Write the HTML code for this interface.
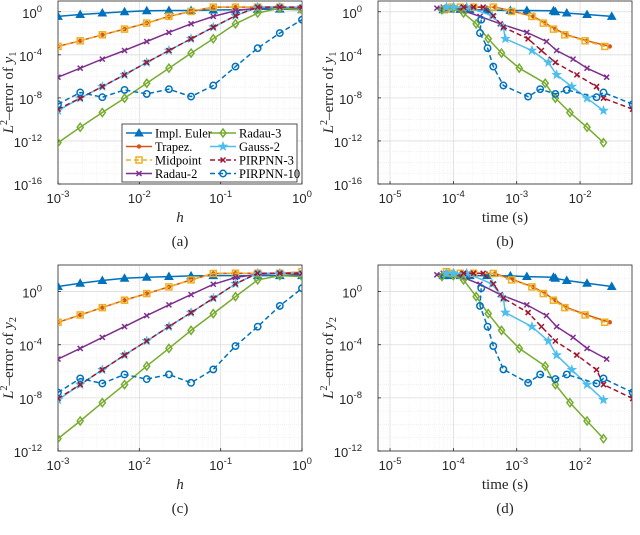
<!DOCTYPE html>
<html><head><meta charset="utf-8"><style>
body{margin:0;background:#fff;width:640px;height:535px;overflow:hidden}
svg{display:block}
.tk{font-family:"Liberation Sans",sans-serif;font-size:13px;fill:#262626}
.lb{font-family:"Liberation Serif",serif;font-size:15px;fill:#262626}
.lg{font-family:"Liberation Serif",serif;font-size:12.5px;fill:#000}
</style></head><body>
<svg id="fig" width="640" height="535" xmlns="http://www.w3.org/2000/svg"></svg>
<script>
const seriesNames=["Impl. Euler","Trapez.","Midpoint","Radau-2","Radau-3","Gauss-2","PIRPNN-3","PIRPNN-10"];
const hLog=[-3,-2.727,-2.455,-2.182,-1.909,-1.636,-1.364,-1.091,-0.818,-0.545,-0.273,0];
// log10 error of y1 (index follows hLog)
const errY1_euler=[-0.43,-0.25,-0.12,0,0.09,0.12,0.12,0.16,0.19,0.22,0.25,0.19];
const errY1_trap=[-3.22,-2.7,-2.14,-1.61,-1.05,-0.43,0.03,0.43,0.43,0.43,0.43,0.19];
const errY1_mid=[-3.22,-2.7,-2.14,-1.61,-1.05,-0.43,0.03,0.43,0.43,0.43,0.43,0.25];
const errY1_rad2=[-6.08,-5.24,-4.4,-3.6,-2.76,-1.92,-1.12,-0.43,0.09,0.34,0.43,0.34];
const errY1_rad3=[-12.16,-10.73,-9.36,-8.03,-6.64,-5.24,-3.84,-2.51,-1.12,-0.12,0.34,0.19];
const errY1_gauss=[-9.18,-8.03,-6.95,-5.86,-4.71,-3.6,-2.51,-1.43,-0.37,0.43,0.43,0.43];
const errY1_pir3=[-9.05,-8.03,-6.95,-5.86,-4.71,-3.6,-2.51,-1.43,-0.37,0.43,0.43,0.43];
const errY1_pir10=[-8.59,-7.5,-7.94,-7.26,-7.63,-7.19,-7.88,-6.85,-5.09,-3.38,-1.98,-0.74];
// log10 error of y2
const errY2_euler=[0.38,0.63,0.83,1.0,1.08,1.13,1.18,1.2,1.2,1.2,1.2,1.2];
const errY2_trap=[-2.31,-1.76,-1.21,-0.65,-0.15,0.35,0.88,1.36,1.38,1.38,1.38,1.45];
const errY2_mid=[-2.31,-1.76,-1.21,-0.65,-0.15,0.35,0.88,1.36,1.38,1.38,1.38,1.5];
const errY2_rad2=[-5.08,-4.28,-3.45,-2.64,-1.81,-1.0,-0.23,0.55,1.06,1.31,1.38,1.26];
const errY2_rad3=[-11.07,-9.74,-8.36,-7.0,-5.61,-4.28,-2.92,-1.66,-0.38,0.88,1.2,1.13];
const errY2_gauss=[-8.15,-7.0,-5.89,-4.78,-3.72,-2.64,-1.58,-0.5,0.58,1.38,1.38,1.38];
const errY2_pir3=[-8.05,-7.0,-5.89,-4.78,-3.72,-2.64,-1.58,-0.5,0.58,1.38,1.38,1.38];
const errY2_pir10=[-7.6,-6.54,-6.92,-6.24,-6.59,-6.24,-6.87,-5.86,-4.1,-2.64,-1.08,0.25];
// log10 CPU time (s), same index order as hLog
const time_euler=[-1.5,-1.89,-2.21,-2.39,-2.42,-2.84,-3.1,-3.47,-3.74,-3.89,-4.05,-4.16];
const time_trap=[-1.53,-1.89,-2.21,-2.39,-2.55,-2.74,-3.05,-3.34,-3.66,-3.87,-4.0,-4.08];
const time_mid=[-1.61,-1.92,-2.24,-2.42,-2.58,-2.76,-3.08,-3.37,-3.68,-3.89,-4.03,-4.11];
const time_rad2=[-1.58,-1.89,-2.11,-2.37,-2.53,-2.84,-3.26,-3.58,-3.84,-4.0,-4.16,-4.26];
const time_rad3=[-1.63,-1.89,-2.16,-2.39,-2.55,-2.96,-3.24,-3.45,-3.64,-3.84,-4.0,-4.18];
const time_gauss=[-1.63,-1.89,-2.13,-2.37,-2.5,-2.76,-3.18,-3.21,-3.39,-3.79,-4.0,-4.11];
const time_pir3=[-1.17,-1.63,-1.74,-2.05,-2.39,-2.61,-2.82,-3.21,-3.37,-3.53,-3.68,-3.84];
const time_pir10=[-1.17,-1.63,-1.74,-2.21,-2.39,-2.63,-2.82,-3.21,-3.37,-3.46,-3.58,-3.56];

const styles=[
 {c:"#0072BD",d:"",m:"tri"},{c:"#D95319",d:"",m:"dot"},{c:"#EDB120",d:"5,3",m:"sq"},
 {c:"#7E2F8E",d:"",m:"x"},{c:"#77AC30",d:"",m:"dia"},{c:"#4DBEEE",d:"",m:"star"},
 {c:"#A2142F",d:"5,3",m:"x"},{c:"#0072BD",d:"5,3",m:"circ"}];
const Y1=[errY1_euler,errY1_trap,errY1_mid,errY1_rad2,errY1_rad3,errY1_gauss,errY1_pir3,errY1_pir10];
const Y2=[errY2_euler,errY2_trap,errY2_mid,errY2_rad2,errY2_rad3,errY2_gauss,errY2_pir3,errY2_pir10];
const T=[time_euler,time_trap,time_mid,time_rad2,time_rad3,time_gauss,time_pir3,time_pir10];

const NS="http://www.w3.org/2000/svg";
const svg=document.getElementById('fig');
function mk(tag,at,parent){const e=document.createElementNS(NS,tag);for(const k in at)e.setAttribute(k,at[k]);(parent||svg).appendChild(e);return e;}
function marker(g,m,x,y,c){
 let e;
 if(m==="tri")e=mk('polygon',{points:`${x},${y-4} ${x-4},${y+3} ${x+4},${y+3}`,fill:c,stroke:c},g);
 else if(m==="dot")e=mk('circle',{cx:x,cy:y,r:2.2,fill:c},g);
 else if(m==="sq")e=mk('rect',{x:x-3,y:y-3,width:6,height:6,fill:"none",stroke:c,"stroke-width":1.5},g);
 else if(m==="x")e=mk('path',{d:`M${x-2.5},${y-2.5}L${x+2.5},${y+2.5}M${x-2.5},${y+2.5}L${x+2.5},${y-2.5}`,stroke:c,"stroke-width":1.5},g);
 else if(m==="dia")e=mk('polygon',{points:`${x},${y-4} ${x+3},${y} ${x},${y+4} ${x-3},${y}`,fill:"none",stroke:c,"stroke-width":1.5},g);
 else if(m==="star"){let p=[];for(let k=0;k<10;k++){const r=k%2?2:5,a=-Math.PI/2+k*Math.PI/5;p.push((x+r*Math.cos(a)).toFixed(1)+","+(y+r*Math.sin(a)).toFixed(1));}e=mk('polygon',{points:p.join(" "),fill:c,stroke:c,"stroke-width":0.5},g);}
 else if(m==="circ")e=mk('circle',{cx:x,cy:y,r:3.2,fill:"none",stroke:c,"stroke-width":1.5},g);
 
 
}
function panel(p){
 const g=mk('g',{});
 
 
 const X=v=>p.l+(v-p.x0)/(p.x1-p.x0)*(p.r-p.l);
 const Yf=v=>p.b-(v-p.y0)/(p.y1-p.y0)*(p.b-p.t);
 mk('rect',{x:p.l,y:p.t,width:p.r-p.l,height:p.b-p.t,fill:"#fff"},g);
 for(let d=Math.floor(p.x0);d<=Math.ceil(p.x1);d++){
  for(let k=1;k<10;k++){const v=d+Math.log10(k);if(v<p.x0-1e-6||v>p.x1+1e-6)continue;
   const x=X(v);mk('line',{x1:x,x2:x,y1:p.t,y2:p.b,stroke:k===1?"#dcdcdc":"#eeeeee","stroke-width":k===1?0.8:0.6,"stroke-dasharray":k===1?"":"1,1"},g);}
 }
 for(let v=Math.ceil(p.y0);v<=p.y1;v++){const y=Yf(v);
  mk('line',{x1:p.l,x2:p.r,y1:y,y2:y,stroke:(v%4===0)?"#dcdcdc":"#eeeeee","stroke-width":0.8,"stroke-dasharray":(v%4===0)?"":"1,1"},g);}
 mk('rect',{x:p.l,y:p.t,width:p.r-p.l,height:p.b-p.t,fill:"none",stroke:"#262626","stroke-width":0.8},g);
 for(let v=Math.ceil(p.x0);v<=p.x1+1e-6;v++){const x=X(v);
  mk('line',{x1:x,x2:x,y1:p.b,y2:p.b-3,stroke:"#262626","stroke-width":0.8},g);
  const t=mk('text',{x:x,y:p.b+19,"text-anchor":"middle",class:"tk"},g);
  
  t.innerHTML=`10<tspan dy="-6" font-size="9.5">${v}</tspan>`;}
 for(let v=Math.ceil(p.y0);v<=p.y1;v++){if(v%4!==0)continue;const y=Yf(v);
  mk('line',{x1:p.l,x2:p.l+3,y1:y,y2:y,stroke:"#262626","stroke-width":0.8},g);
  const t=mk('text',{x:p.l-16,y:y+6,"text-anchor":"end",class:"tk"},g);
  
  t.innerHTML=`10<tspan dy="-6" font-size="9.5">${v}</tspan>`;}
 const xl=mk('text',{x:(p.l+p.r)/2,y:p.b+38,"text-anchor":"middle",class:"lb","font-style":p.xi?"italic":"normal"},g);
 
 xl.textContent=p.xlab;
 const cy=(p.t+p.b)/2,cx=p.l-45;
 const yl=mk('text',{x:cx,y:cy,"text-anchor":"middle",class:"lb",transform:`rotate(-90 ${cx} ${cy})`},g);
 
 yl.innerHTML=`<tspan font-style="italic">L</tspan><tspan dy="-6" font-size="10">2</tspan><tspan dy="6">–error of </tspan><tspan font-style="italic">y</tspan><tspan dy="3" font-size="10">${p.sub}</tspan>`;
 const cap=mk('text',{x:(p.l+p.r)/2,y:p.b+62,"text-anchor":"middle",class:"lb","font-size":"12"},g);
 
 cap.textContent=p.cap;
 const cp=mk('clipPath',{id:"cp"+p.cap.replace(/\W/g,'')},g);
 mk('rect',{x:p.l,y:p.t,width:p.r-p.l,height:p.b-p.t},cp);
 for(let s=0;s<8;s++){
  const xs=p.xs(s),ys=p.ys[s],st=styles[s];
  const sg=mk('g',{"clip-path":`url(#${cp.id})`},g);
  
  
  const pts=xs.map((v,i)=>X(v).toFixed(1)+","+Yf(ys[i]).toFixed(1)).join(" ");
  mk('polyline',{points:pts,fill:"none",stroke:st.c,"stroke-width":1.5,"stroke-dasharray":st.d},sg);
  xs.forEach((v,i)=>marker(sg,st.m,X(v),Yf(ys[i]),st.c));
 }
 return {g,X,Yf};
}
const hx=()=>hLog;
panel({name:"subplot-a",l:58,r:302,t:1,b:184,x0:-3,x1:0,y0:-16,y1:1,xlab:"h",xi:true,sub:"1",cap:"(a)",xs:hx,ys:Y1});
panel({name:"subplot-b",l:378,r:632,t:1,b:184,x0:-5.19,x1:-1.18,y0:-16,y1:1,xlab:"time (s)",xi:false,sub:"1",cap:"(b)",xs:s=>T[s],ys:Y1});
panel({name:"subplot-c",l:58,r:302,t:265,b:451,x0:-3,x1:0,y0:-12,y1:2,xlab:"h",xi:true,sub:"2",cap:"(c)",xs:hx,ys:Y2});
panel({name:"subplot-d",l:378,r:632,t:265,b:451,x0:-5.19,x1:-1.18,y0:-12,y1:2,xlab:"time (s)",xi:false,sub:"2",cap:"(d)",xs:s=>T[s],ys:Y2});
const lg=mk('g',{});


mk('rect',{x:122,y:124,width:175,height:58,fill:"#fff",stroke:"#262626","stroke-width":0.8},lg);
[0,1,2,3,4,5,6,7].forEach((s,k)=>{
 const col=k<4?0:1,row=k%4;
 const x0=col?210:126,y=133+row*13.5,st=styles[s];
 const e=mk('g',{},lg);
 
 
 mk('line',{x1:x0,x2:x0+26,y1:y,y2:y,stroke:st.c,"stroke-width":1.5,"stroke-dasharray":st.d},e);
 marker(e,st.m,x0+13,y,st.c);
 const t=mk('text',{x:x0+29,y:y+4.5,class:"lg"},e);
 t.textContent=seriesNames[s];
});
</script>
</body></html>
